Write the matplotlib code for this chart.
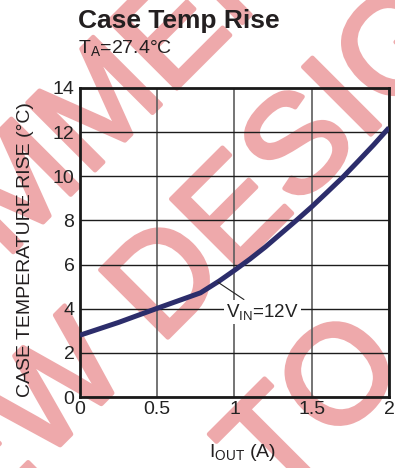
import numpy as np
import matplotlib
matplotlib.use("Agg")
import matplotlib.pyplot as plt
from matplotlib import patheffects
from matplotlib.font_manager import FontProperties, findfont, get_font

# Case temperature rise vs output current (VIN = 12V)
iout_a = [0.0, 0.25, 0.5, 0.78, 0.9, 1.0, 1.1, 1.2, 1.3, 1.4, 1.5, 1.6, 1.7, 1.8, 1.9, 2.0]
temp_rise_c = [2.8, 3.38, 4.02, 4.72, 5.25, 5.74, 6.25, 6.8, 7.4, 8.0, 8.62, 9.28, 9.95, 10.68, 11.42, 12.2]

x_ticks = [0, 0.5, 1, 1.5, 2]
x_tick_labels = ["0", "0.5", "1", "1.5", "2"]
y_ticks = [0, 2, 4, 6, 8, 10, 12, 14]

title = "Case Temp Rise"
subtitle = "T$_\\mathrm{A}$=27.4°C"
x_label = "I$_\\mathrm{OUT}$ (A)"
y_label = "CASE TEMPERATURE RISE (°C)"
curve_label = "V$_\\mathrm{IN}$=12V"
watermark_lines = ["NOT RECOMMENDED", "FOR NEW DESIGNS", "TO"]

plt.rcParams["font.family"] = ["Liberation Sans", "DejaVu Sans"]
plt.rcParams["mathtext.fontset"] = "custom"
plt.rcParams["mathtext.rm"] = "Liberation Sans"
plt.rcParams["mathtext.it"] = "Liberation Sans:italic"
plt.rcParams["mathtext.bf"] = "Liberation Sans:bold"

W, H, DPI = 395, 468, 100
fig = plt.figure(figsize=(W / DPI, H / DPI), dpi=DPI)
fig.patch.set_facecolor("white")

# axes box in pixel units (left, top, right, bottom)
L, T, R, B = 80, 88, 389, 397
ax = fig.add_axes([L / W, 1 - B / H, (R - L) / W, (B - T) / H])
ax.patch.set_facecolor("none")

ax.plot(iout_a, temp_rise_c, color="#2c2d6b", lw=3.6, solid_capstyle="butt",
        solid_joinstyle="round", zorder=3)

ax.set_xlim(0, 2)
ax.set_ylim(0, 14)
ax.set_xticks(x_ticks)
ax.set_xticklabels(x_tick_labels)
ax.set_yticks(y_ticks)
ax.tick_params(length=0, labelsize=14, colors="#222222")
ax.tick_params(axis="x", pad=3)
ax.tick_params(axis="y", pad=4)
ax.xaxis.grid(True, color="#5c5c5c", lw=1.2)
ax.yaxis.grid(True, color="#1c1c1c", lw=1.0)
ax.set_axisbelow(True)
for s in ax.spines.values():
    s.set_linewidth(2.0)
    s.set_color("#1a1a1a")

ax.annotate(curve_label, xy=(0.893, 5.2), xytext=(1.18, 3.86),
            ha="center", va="center", fontsize=13.5, color="#222222",
            bbox=dict(boxstyle="square,pad=0.12", fc="white", ec="none"),
            arrowprops=dict(arrowstyle="-", lw=0.8, color="#222222",
                            shrinkA=0, shrinkB=0),
            zorder=4)

fig.text(78 / W, 1 - 28 / H, title, fontsize=19, fontweight="bold",
         color="#231f20", ha="left", va="baseline")
fig.text(78 / W, 1 - 53 / H, subtitle, fontsize=14, color="#231f20",
         ha="left", va="baseline")
fig.text(243 / W, 1 - 457 / H, x_label, fontsize=14, color="#231f20",
         ha="center", va="baseline")
fig.text(26 / W, 1 - 250 / H, y_label, fontsize=14, color="#231f20",
         rotation=90, ha="center", va="center")

# diagonal watermark behind the plot, one string per line,
# each placed by one reference letter
wm_size = 100
wm_color = "#eea9ab"
wm_prop = FontProperties(family="Liberation Sans", size=wm_size)
wm_font = get_font(findfont(wm_prop))
wm_font.set_size(wm_size, DPI)


def advances(s):
    out = []
    for ch in s:
        g = wm_font.load_char(ord(ch))
        out.append(g.linearHoriAdvance / 65536.0)
    return out


em = wm_size * DPI / 72.0
cap = 0.716 * em
u = np.array([np.sqrt(0.5), -np.sqrt(0.5)])   # along baseline (image coords)
n = np.array([np.sqrt(0.5), np.sqrt(0.5)])    # towards baseline side
anchors = [(10, (160, 35)), (8, (152, 283)), (0, (267, 441))]
for line, (k, centre) in zip(watermark_lines, anchors):
    adv = advances(line)
    lsb = wm_font.load_char(ord(line[0])).horiBearingX / 64.0
    base = np.array(centre, float) + n * cap / 2
    start = base - u * (sum(adv[:k]) + adv[k] / 2 - lsb)
    fig.text(start[0] / W, 1 - start[1] / H, line, fontsize=wm_size,
             family="Liberation Sans", color=wm_color,
             rotation=45, rotation_mode="anchor", ha="left", va="baseline",
             zorder=-1,
             path_effects=[patheffects.withStroke(linewidth=3.2,
                                                  foreground=wm_color)])

fig.savefig("out.png", dpi=DPI, facecolor="white")
